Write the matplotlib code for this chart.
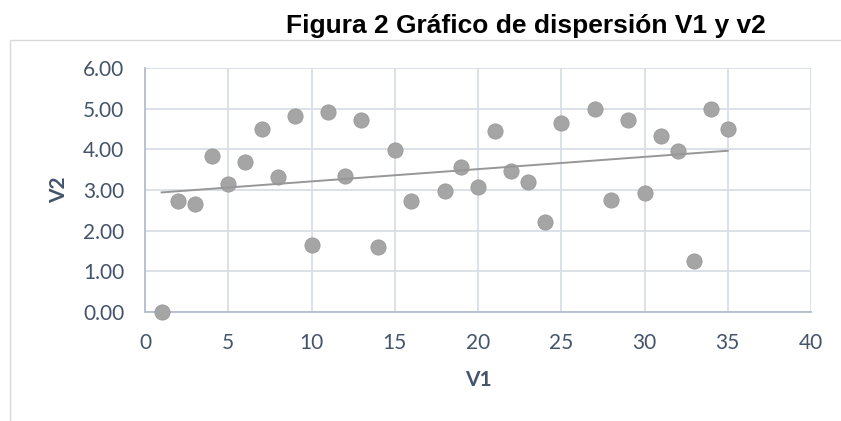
import matplotlib

matplotlib.use("Agg")
import matplotlib.pyplot as plt
import numpy as np
from matplotlib.patches import Rectangle

# V1 / V2 values
V1 = [1, 2, 3, 4, 5, 6, 7, 8, 9, 10, 11, 12, 13, 14, 15, 16,
      18, 19, 20, 21, 22, 23, 24, 25,
      27, 28, 29, 30, 31, 32, 33, 34, 35]
V2 = [0.00, 2.74, 2.66, 3.84, 3.15, 3.68, 4.49, 3.32, 4.83, 1.64, 4.93, 3.35,
      4.73, 1.61, 3.98, 2.74,
      2.98, 3.57, 3.07, 4.46, 3.46, 3.20, 2.21, 4.64,
      4.99, 2.76, 4.73, 2.93, 4.32, 3.97, 1.25, 5.00, 4.50]
X_TICKS = [0, 5, 10, 15, 20, 25, 30, 35, 40]
Y_TICKS = [0, 1, 2, 3, 4, 5, 6]

TITLE = "Figura 2 Gráfico de dispersión V1 y v2"
TEXT_COLOR = "#44546A"
GRID_COLOR = "#D9DEE6"

fig = plt.figure(figsize=(8.41, 4.21), dpi=100)
ax = fig.add_axes([145 / 841, 1 - 312 / 421, 666 / 841, 244 / 421])

# outer chart frame, cropped by the canvas on the right and bottom
fig.patches.append(
    Rectangle((10 / 841, -0.2), 1.2, 1.2 - 40 / 421, transform=fig.transFigure,
              fill=False, edgecolor="#D9D9D9", linewidth=1.0)
)

ax.scatter(V1, V2, s=120, color="#A5A5A5", edgecolors="#9A9A9A",
           linewidths=0.6, zorder=3, clip_on=False)

# linear trend line, like the spreadsheet's
slope, intercept = np.polyfit(V1, V2, 1)
trend_x = np.array([min(V1), max(V1)])
ax.plot(trend_x, slope * trend_x + intercept, color="#979797",
        linewidth=1.4, zorder=4)

ax.set_xlim(0, 40)
ax.set_ylim(0, 6)
ax.set_xticks(X_TICKS)
ax.set_yticks(Y_TICKS)
ax.set_yticklabels([f"{v:.2f}" for v in Y_TICKS])
ax.tick_params(length=0, pad=15, labelsize=15, labelcolor=TEXT_COLOR)
for label in ax.get_xticklabels() + ax.get_yticklabels():
    label.set_fontfamily("Lato")
ax.grid(True, color=GRID_COLOR, linewidth=1.3)
ax.set_axisbelow(True)
for side in ("top", "right"):
    ax.spines[side].set_visible(False)
for side in ("left", "bottom"):
    ax.spines[side].set_color("#B4BDCB")
    ax.spines[side].set_linewidth(1.3)

ax.set_xlabel("V1", fontsize=15, fontweight="bold", color=TEXT_COLOR,
              family="Lato", labelpad=12)
ax.set_ylabel("V2", fontsize=15, fontweight="bold", color=TEXT_COLOR,
              family="Lato", labelpad=10)

fig.text(526 / 841, 1 - 33 / 421, TITLE, ha="center", va="baseline",
         fontsize=19, fontweight="bold", family="Liberation Sans")

fig.savefig("out.png", dpi=100)
